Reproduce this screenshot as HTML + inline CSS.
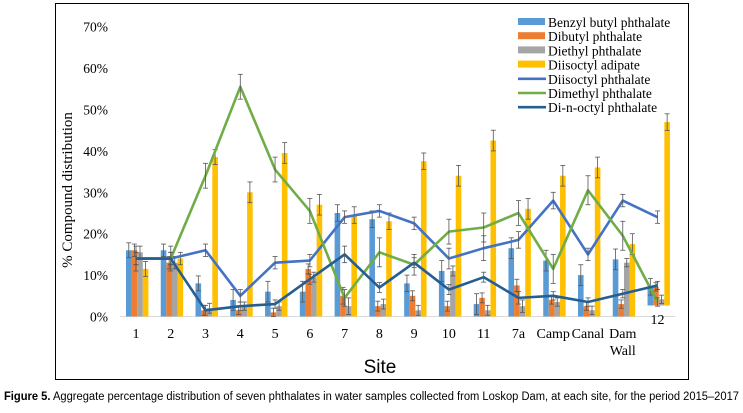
<!DOCTYPE html>
<html><head><meta charset="utf-8"><style>
body{margin:0;background:#fff;width:743px;height:408px;overflow:hidden}
svg text{font-family:"Liberation Serif",serif}
</style></head><body>
<svg width="743" height="408" xmlns="http://www.w3.org/2000/svg">
<rect x="55.5" y="3.5" width="633" height="376" fill="none" stroke="#000" stroke-width="1"/>
<g id="yaxis"></g>
<line x1="120" y1="316.5" x2="675" y2="316.5" stroke="#d9d9d9" stroke-width="1"/>
<g id="bars"></g>
<g id="lines"></g>
<g id="xlabels"></g>
<text x="72" y="190" transform="rotate(-90 72 190)" text-anchor="middle" font-size="15">% Compound distribution</text>
<text x="380" y="373" text-anchor="middle" font-size="19" style="font-family:'Liberation Sans',sans-serif">Site</text>
<g id="legend"></g>
<text x="4" y="400" font-size="11.5" style="font-family:'Liberation Sans',sans-serif" textLength="735" lengthAdjust="spacingAndGlyphs"><tspan font-weight="bold">Figure 5.</tspan> Aggregate percentage distribution of seven phthalates in water samples collected from Loskop Dam, at each site, for the period 2015–2017</text>
</svg>
<script>
const categories=["1","2","3","4","5","6","7","8","9","10","11","7a","Camp","Canal","Dam Wall","12"];
const bbp=[16,16,8,4,6,6,25,23.5,8,11,3,16.5,13.5,10,13.8,4.5];
const dbp=[16,13,1.5,1.5,1,11.5,5,2.5,5,2.5,4.5,7.5,4,2.5,3,4.5];
const dep=[15.5,13,2,2.5,2.5,9.5,2.5,3,1.5,11,1.5,2.5,3.5,1.5,13,1.5];
const dia=[11.5,14,38.5,30,39.5,27,24.5,23,37.5,34,42.5,26,34,36,17.5,44.3];
const diip=[14,14,16,5,13,13.5,24,25.5,22.5,14,16.5,18.5,28,15,28,24];
const dmp=[14,14,34,55.5,35.5,25.5,4.5,15.5,12.5,20.5,21.5,25,11.5,30.5,19.5,3.5];
const dnop=[14,14,1.5,2.5,3,9,15,7,13,6.5,9.5,4.5,5,3.5,5.5,7.5];
const errBar=[1.8,1.5,1.8,2.5,2.5,2.5,2,2,2,2.5,2.5,2.5,2.5,2.5,2.5,2];
const errSmall=[1.5,1.5,1.2,1,1,1.2,2,1.2,1.2,1.2,1.2,1.5,1,1,1,1];
const errLine=[1.5,1.5,1.5,1.5,1.5,1.5,1.5,1.5,1.5,2.5,3,2,2,1.5,1.5,1.5];
const errDmp=[3,3,3,3,3,3,2,3.5,2.5,3,3.5,3,3.5,3.5,3.5,1];
const yTicks=[0,10,20,30,40,50,60,70];
const NS="http://www.w3.org/2000/svg";
const x0=118.6,step=34.77,base=316.5,k=4.14;
const xc=i=>x0+step*(i+0.5);
const y=v=>base-v*k;
function mk(t,a,p){const e=document.createElementNS(NS,t);for(const q in a)e.setAttribute(q,a[q]);p.appendChild(e);return e;}
const ya=document.getElementById('yaxis');
yTicks.forEach(t=>{const e=mk('text',{x:108,y:y(t)+5,'text-anchor':'end','font-size':13.5},ya);e.textContent=t+'%';

});
function errb(g,x,v,er){const c='#555';const a=mk('line',{x1:x,x2:x,y1:y(v+er),y2:y(Math.max(v-er,0)),stroke:c,'stroke-width':0.8},g);


mk('line',{x1:x-2.5,x2:x+2.5,y1:y(v+er),y2:y(v+er),stroke:c,'stroke-width':0.8},g);
mk('line',{x1:x-2.5,x2:x+2.5,y1:y(Math.max(v-er,0)),y2:y(Math.max(v-er,0)),stroke:c,'stroke-width':0.8},g);}
const bg=document.getElementById('bars');
const barSeries=[[bbp,'#5b9bd5',errBar,'bar-benzyl-butyl'],[dbp,'#ed7d31',errSmall,'bar-dibutyl'],[dep,'#a5a5a5',errSmall,'bar-diethyl'],[dia,'#ffc000',errBar,'bar-diisoctyl-adipate']];
barSeries.forEach((s,j)=>{s[0].forEach((v,i)=>{const bx=xc(i)-10+j*5.6;const off=(i===15)?-11:0;
const r=mk('rect',{x:bx,y:y(v)+off,width:5.6,height:v*k,fill:s[1]},bg);


const g=mk('g',{transform:'translate(0,'+off+')'},bg);errb(g,bx+2.8,v,s[2][i]);});});
const lg=document.getElementById('lines');
const lineSeries=[[diip,'#4472c4',errLine,'line-diisoctyl-phthalate'],[dmp,'#70ad47',errDmp,'line-dimethyl-phthalate'],[dnop,'#255e91',errSmall,'line-di-n-octyl-phthalate']];
lineSeries.forEach(s=>{const pts=s[0].map((v,i)=>xc(i)+','+y(v)).join(' ');
const p=mk('polyline',{points:pts,fill:'none',stroke:s[1],'stroke-width':2.6,'stroke-linejoin':'round'},lg);


s[0].forEach((v,i)=>errb(lg,xc(i),v,s[2][i]));});
const xl=document.getElementById('xlabels');
categories.forEach((c,i)=>{let ty=338;if(i===15)ty=324;
const t=mk('text',{x:xc(i),y:ty,'text-anchor':'middle','font-size':14},xl);


if(c==='Dam Wall'){t.textContent='Dam';const t2=mk('text',{x:xc(i),y:355,'text-anchor':'middle','font-size':14},xl);t2.textContent='Wall';

}else t.textContent=c;});
const legendItems=[['Benzyl butyl phthalate','#5b9bd5','bar'],['Dibutyl phthalate','#ed7d31','bar'],['Diethyl phthalate','#a5a5a5','bar'],['Diisoctyl adipate','#ffc000','bar'],['Diisoctyl phthalate','#4472c4','line'],['Dimethyl phthalate','#70ad47','line'],['Di-n-octyl phthalate','#255e91','line']];
const lgd=document.getElementById('legend');
legendItems.forEach((it,i)=>{const ly=22+i*14.2;
const g=mk('g',{},lgd);


if(it[2]==='bar')mk('rect',{x:518,y:ly-4,width:27,height:7,fill:it[1]},g);
else mk('line',{x1:518,x2:546,y1:ly,y2:ly,stroke:it[1],'stroke-width':2.6},g);
const t=mk('text',{x:548,y:ly+5,'font-size':13.5},g);t.textContent=it[0];});
</script>
</body></html>
